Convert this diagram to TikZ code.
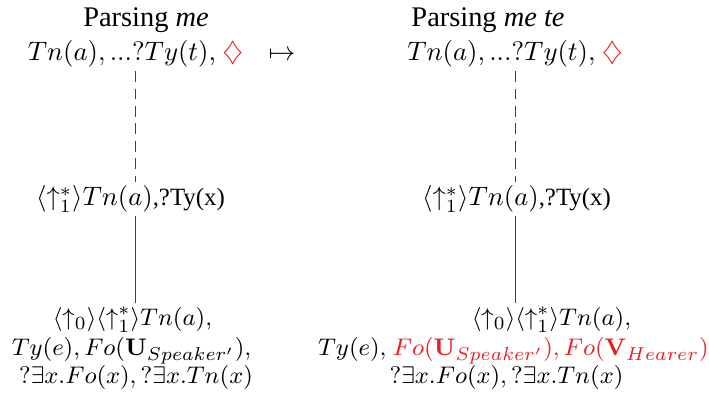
\documentclass[tikz,border=0pt]{standalone}
\usepackage[no-math]{fontspec}
\setmainfont{Liberation Serif}
\definecolor{mred}{RGB}{235,30,35}
\begin{document}
\begin{tikzpicture}[x=0.3745pt,y=-0.3745pt,
  txt/.style={anchor=base,inner sep=1.2pt,font=\fontsize{9.5}{11.4}\selectfont},
  toptxt/.style={txt,font=\fontsize{9.75}{11.7}\selectfont},
  bigtxt/.style={txt,font=\fontsize{10.1}{12}\selectfont},
  titletxt/.style={txt,font=\fontsize{10.64}{12.8}\selectfont},
  dashline/.style={draw=black!75,line width=0.5pt,dash pattern=on 4pt off 2.5pt},
  solidline/.style={draw=black!75,line width=0.5pt}]
\newcommand{\smalltext}[1]{{\fontsize{9.3}{11}\selectfont #1}}
\useasboundingbox[fill=white] (0,0) rectangle (709,394);
% left column
\node[titletxt] (titleL) at (146,26) {Parsing \textit{me}};
\node[toptxt] (topL) at (135.5,61) {$Tn(a), ...?Ty(t),$ {\color{mred}$\diamondsuit$}};
\node[toptxt] (map) at (282,61) {$\mapsto$};
\node[bigtxt] (midL) at (130.5,206) {$\langle\uparrow_1^*\rangle Tn(a)$\smalltext{,?Ty(x)}};
\node[txt] (botLa) at (132.5,326) {$\langle\uparrow_0\rangle\langle\uparrow_1^*\rangle Tn(a),$};
\node[txt] (botLb) at (131.5,356) {$Ty(e), Fo(\mathbf{U}_{Speaker'}),$};
\node[txt] (botLc) at (136,384) {$?\exists x.Fo(x), ?\exists x.Tn(x)$};
\coordinate (lxL) at (135.7,0);
\draw[dashline] (topL.south -| lxL) -- (midL.north -| lxL);
\draw[solidline] (midL.south -| lxL) -- (botLa.north -| lxL);
% right column
\node[titletxt] (titleR) at (488,26) {Parsing \textit{me te}};
\node[toptxt] (topR) at (515,61) {$Tn(a), ...?Ty(t),$ {\color{mred}$\diamondsuit$}};
\node[bigtxt] (midR) at (516.5,206) {$\langle\uparrow_1^*\rangle Tn(a)$\smalltext{,?Ty(x)}};
\node[txt] (botRa) at (551.5,326) {$\langle\uparrow_0\rangle\langle\uparrow_1^*\rangle Tn(a),$};
\node[txt] (botRb) at (513.5,356) {$Ty(e),$ {\color{mred}$Fo(\mathbf{U}_{Speaker'}), Fo(\mathbf{V}_{Hearer})$}};
\node[txt] (botRc) at (506.5,384) {$?\exists x.Fo(x), ?\exists x.Tn(x)$};
\coordinate (lxR) at (515.7,0);
\draw[dashline] (topR.south -| lxR) -- (midR.north -| lxR);
\draw[solidline] (midR.south -| lxR) -- (botRa.north -| lxR);
\end{tikzpicture}
\end{document}
